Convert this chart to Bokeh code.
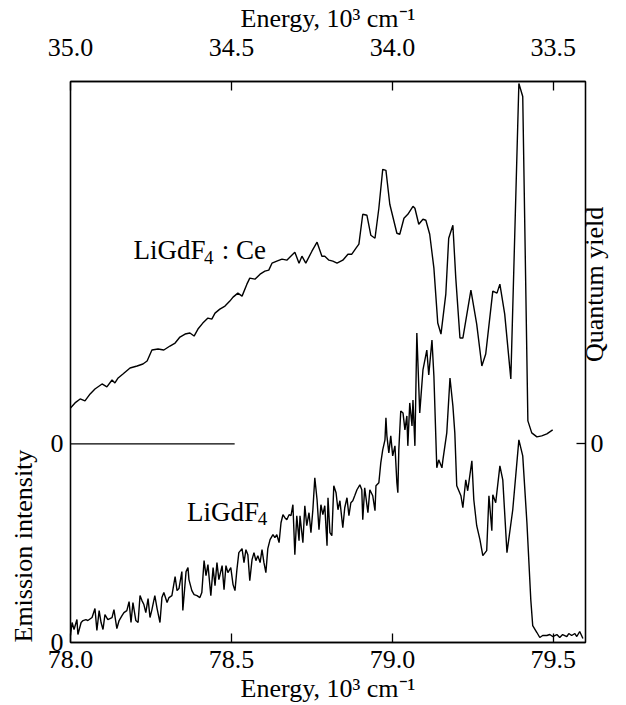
import numpy as np
from bokeh.plotting import figure
from bokeh.models import Range1d, LinearAxis, FixedTicker, PrintfTickFormatter, Label, Title
from bokeh.embed import file_html
from bokeh.resources import INLINE

# ---------------- data ----------------
# LiGdF4:Ce  quantum yield (arbitrary units, right axis, 0 at the middle tick)
ce_energy = [78.000, 78.014, 78.030, 78.045, 78.061, 78.076, 78.098, 78.113, 78.129, 78.138,
             78.148, 78.163, 78.185, 78.207, 78.225, 78.238, 78.253, 78.272, 78.290, 78.309,
             78.325, 78.340, 78.356, 78.371, 78.384, 78.396, 78.411, 78.427, 78.439, 78.449,
             78.464, 78.480, 78.495, 78.505, 78.520, 78.533, 78.548, 78.557, 78.573, 78.589,
             78.604, 78.616, 78.626, 78.641, 78.657, 78.672, 78.697, 78.710, 78.719, 78.731,
             78.750, 78.766, 78.781, 78.790, 78.803, 78.815, 78.828, 78.846, 78.862, 78.874,
             78.887, 78.896, 78.908, 78.921, 78.933, 78.946, 78.958, 78.970, 78.980, 78.992,
             79.014, 79.023, 79.036, 79.048, 79.064, 79.070, 79.082, 79.095, 79.104, 79.116,
             79.129, 79.141, 79.151, 79.166, 79.175, 79.188, 79.197, 79.210, 79.219, 79.244,
             79.262, 79.278, 79.290, 79.312, 79.325, 79.334, 79.349, 79.368, 79.393, 79.405,
             79.421, 79.433, 79.449, 79.464, 79.480, 79.498]
ce_yield = [7.2, 8.2, 9.0, 8.6, 10.0, 11.0, 12.0, 11.4, 12.8, 12.2,
            13.2, 14.0, 15.2, 15.6, 16.0, 16.6, 18.8, 19.0, 18.8, 19.6,
            20.2, 21.4, 22.0, 22.2, 21.6, 23.0, 24.2, 25.2, 25.0, 26.2,
            27.0, 27.6, 28.6, 29.4, 30.2, 29.6, 32.0, 33.2, 33.0, 34.0,
            34.6, 34.8, 36.2, 36.6, 37.0, 36.8, 38.4, 36.2, 37.6, 36.2,
            38.6, 40.4, 37.6, 37.6, 36.8, 36.6, 36.2, 36.8, 38.0, 38.0,
            39.2, 40.0, 46.0, 45.8, 41.8, 41.2, 47.2, 55.0, 54.8, 48.0,
            42.2, 42.0, 45.2, 46.0, 47.6, 47.2, 44.0, 45.0, 44.8, 42.0,
            35.2, 24.2, 22.0, 30.0, 41.2, 43.8, 33.2, 21.2, 21.2, 30.8,
            24.0, 15.6, 18.0, 30.6, 30.2, 32.0, 26.0, 13.0, 72.2, 69.6,
            4.6, 2.2, 1.4, 1.6, 2.0, 2.8]

# LiGdF4 emission intensity (arbitrary units, left axis)
pure_energy = [78.000, 78.005, 78.011, 78.020, 78.023, 78.033, 78.039, 78.048, 78.054, 78.067,
               78.076, 78.082, 78.089, 78.095, 78.101, 78.107, 78.116, 78.129, 78.135, 78.144,
               78.151, 78.160, 78.166, 78.175, 78.182, 78.188, 78.194, 78.203, 78.210, 78.216,
               78.222, 78.228, 78.234, 78.241, 78.247, 78.253, 78.262, 78.269, 78.278, 78.284,
               78.290, 78.300, 78.306, 78.315, 78.325, 78.331, 78.337, 78.346, 78.349, 78.359,
               78.365, 78.368, 78.377, 78.384, 78.393, 78.402, 78.408, 78.415, 78.421, 78.427,
               78.436, 78.443, 78.449, 78.455, 78.461, 78.471, 78.477, 78.483, 78.489, 78.498,
               78.505, 78.511, 78.517, 78.523, 78.533, 78.539, 78.545, 78.551, 78.557, 78.564,
               78.570, 78.576, 78.582, 78.589, 78.595, 78.601, 78.607, 78.613, 78.620, 78.629,
               78.635, 78.641, 78.648, 78.654, 78.660, 78.666, 78.672, 78.679, 78.685, 78.691,
               78.697, 78.703, 78.710, 78.713, 78.722, 78.728, 78.734, 78.741, 78.747, 78.753,
               78.759, 78.766, 78.772, 78.778, 78.784, 78.790, 78.797, 78.800, 78.806, 78.812,
               78.818, 78.825, 78.831, 78.837, 78.846, 78.852, 78.859, 78.865, 78.871, 78.877,
               78.883, 78.890, 78.899, 78.905, 78.908, 78.914, 78.924, 78.930, 78.939, 78.946,
               78.949, 78.958, 78.964, 78.970, 78.977, 78.980, 78.983, 78.989, 78.995, 79.001,
               79.008, 79.014, 79.017, 79.020, 79.026, 79.033, 79.039, 79.045, 79.048, 79.054,
               79.061, 79.064, 79.070, 79.076, 79.085, 79.095, 79.107, 79.113, 79.123, 79.129,
               79.138, 79.144, 79.154, 79.157, 79.169, 79.179, 79.188, 79.194, 79.200, 79.213,
               79.219, 79.228, 79.234, 79.247, 79.253, 79.262, 79.272, 79.281, 79.293, 79.300,
               79.309, 79.312, 79.321, 79.334, 79.343, 79.356, 79.374, 79.393, 79.405, 79.418,
               79.430, 79.436, 79.449, 79.458, 79.467, 79.480, 79.489, 79.498, 79.511, 79.520,
               79.529, 79.542, 79.548, 79.557, 79.567, 79.573, 79.582, 79.592]
pure_intensity = [1.4, 4.0, 2.6, 4.6, 1.6, 4.0, 4.4, 4.6, 4.4, 5.0,
                  6.8, 2.4, 6.4, 4.0, 2.6, 5.6, 4.6, 5.0, 6.6, 2.8,
                  4.4, 5.4, 6.0, 6.4, 8.2, 4.0, 8.0, 4.4, 4.0, 9.4,
                  8.4, 7.6, 6.0, 8.8, 5.0, 6.6, 9.4, 6.8, 4.0, 9.0,
                  10.0, 8.0, 9.0, 9.4, 13.2, 10.4, 10.8, 14.2, 6.4, 14.2,
                  15.0, 12.6, 10.4, 9.6, 9.4, 9.0, 10.0, 16.4, 13.4, 15.6,
                  9.4, 15.0, 11.4, 16.0, 12.6, 15.4, 10.6, 15.4, 14.0, 15.0,
                  11.6, 10.4, 14.6, 18.0, 18.8, 16.0, 18.6, 17.6, 12.4, 16.6,
                  18.0, 16.4, 17.4, 16.0, 18.6, 16.0, 14.0, 18.8, 20.6, 21.6,
                  21.0, 21.6, 20.0, 24.0, 25.6, 25.0, 24.6, 25.6, 25.4, 27.6,
                  17.6, 25.4, 20.4, 25.4, 20.0, 27.4, 23.4, 26.0, 22.0, 26.6,
                  33.0, 28.6, 22.6, 27.6, 25.6, 27.4, 19.4, 29.0, 22.0, 21.4,
                  31.4, 30.0, 26.6, 28.4, 23.0, 27.0, 29.0, 25.4, 28.0, 28.4,
                  29.4, 30.6, 31.6, 30.6, 24.6, 31.0, 26.0, 30.6, 29.4, 26.4,
                  31.4, 32.0, 36.0, 38.6, 40.6, 45.0, 41.4, 38.0, 41.4, 37.4,
                  39.4, 32.0, 30.0, 38.6, 46.4, 46.0, 42.6, 45.4, 39.4, 48.0,
                  43.4, 48.6, 39.4, 62.0, 46.0, 54.6, 58.6, 53.6, 60.6, 53.4,
                  35.0, 36.6, 35.0, 36.6, 42.0, 53.0, 47.4, 42.0, 31.4, 29.4,
                  27.0, 32.6, 30.4, 36.4, 28.6, 23.4, 20.6, 17.4, 18.4, 29.4,
                  22.4, 29.6, 28.0, 35.4, 32.6, 18.0, 26.6, 40.6, 37.4, 24.0,
                  8.6, 3.4, 2.0, 1.0, 1.4, 1.4, 1.6, 1.2, 1.6, 1.0,
                  1.6, 1.2, 1.8, 1.4, 1.8, 1.2, 2.2, 0.8]

# zero line of the quantum-yield curve
zero_energy = [78.0, 78.51]
zero_yield = [0.0, 0.0]

bottom_ticks = [78.0, 78.5, 79.0, 79.5]
top_ticks = [35.0, 34.5, 34.0, 33.5]
axis_title = "Energy, 10\u00b3 cm\u207b\u00b9"

# ---------------- ranges ----------------
X_START, X_END = 78.0, 79.6
TOP_START, TOP_END = 35.0, 33.4
EM_START, EM_END = 0.0, 112.4
QY_START, QY_END = -39.8, 72.6
em_at_qy_zero = (0 - QY_START) * (EM_END - EM_START) / (QY_END - QY_START) + EM_START

FONT = "Liberation Serif"
FS = "26px"

p = figure(width=626, height=705, output_backend="svg", toolbar_location=None,
           x_range=Range1d(X_START, X_END), y_range=Range1d(EM_START, EM_END),
           x_axis_location=None, y_axis_location=None,
           min_border_left=70, min_border_right=41, min_border_top=78, min_border_bottom=62)
p.extra_x_ranges = {"top": Range1d(TOP_START, TOP_END)}
p.extra_y_ranges = {"qy": Range1d(QY_START, QY_END)}
p.grid.visible = False
p.outline_line_color = "black"
p.outline_line_width = 1.3
p.background_fill_color = "white"
p.border_fill_color = "white"


def style(ax, tick_in=9):
    ax.axis_line_color = "black"
    ax.axis_line_width = 1.3
    ax.major_tick_in = tick_in
    ax.major_tick_out = 0
    ax.minor_tick_line_color = None
    ax.major_tick_line_color = "black"
    ax.major_tick_line_width = 1.3
    ax.major_label_text_font = FONT
    ax.major_label_text_font_size = FS
    ax.major_label_text_color = "black"
    ax.axis_label_text_font = FONT
    ax.axis_label_text_font_size = FS
    ax.axis_label_text_font_style = "normal"
    ax.axis_label_text_color = "black"


bottom = LinearAxis(ticker=FixedTicker(ticks=bottom_ticks),
                    formatter=PrintfTickFormatter(format="%.1f"),
                    axis_label=axis_title)
style(bottom)
bottom.major_label_standoff = 8
bottom.axis_label_standoff = 3
p.add_layout(bottom, "below")

top = LinearAxis(x_range_name="top", ticker=FixedTicker(ticks=top_ticks),
                 formatter=PrintfTickFormatter(format="%.1f"),
                 axis_label=axis_title)
style(top)
top.major_label_standoff = 26
top.axis_label_standoff = 3
p.add_layout(top, "above")

left = LinearAxis(ticker=FixedTicker(ticks=[EM_START, em_at_qy_zero]),
                  major_label_overrides={EM_START: "0", em_at_qy_zero: "0"})
style(left, tick_in=0)
left.major_label_standoff = 7
p.add_layout(left, "left")

right = LinearAxis(y_range_name="qy", ticker=FixedTicker(ticks=[0]),
                   formatter=PrintfTickFormatter(format="%d"),
                   axis_label="Quantum yield")
style(right)
right.major_label_standoff = 5
right.axis_label_standoff = -12
right.axis_label_orientation = np.pi / 2
p.add_layout(right, "right")

left_title = Title(text="Emission intensity", align="left", vertical_align="top",
                   standoff=15, text_font=FONT, text_font_size=FS,
                   text_font_style="normal", text_color="black")
p.add_layout(left_title, "left")

# ---------------- curves ----------------
p.line(ce_energy, ce_yield, y_range_name="qy", line_color="black", line_width=1.4)
p.line(pure_energy, pure_intensity, line_color="black", line_width=1.4)
p.line(zero_energy, zero_yield, y_range_name="qy", line_color="black", line_width=1.4)

# ---------------- curve labels ----------------
def lab(x, y, text, size="27px", rng=None, **kw):
    kwargs = dict(x=x, y=y, text=text, text_font=FONT, text_font_size=size,
                  text_color="black", **kw)
    if rng:
        kwargs["y_range_name"] = rng
    p.add_layout(Label(**kwargs))

lab(78.196, 38.8, "LiGdF", rng="qy", text_baseline="alphabetic")
lab(78.415, 37.4, "4", size="19px", rng="qy", text_baseline="alphabetic")
lab(78.470, 38.8, ": Ce", rng="qy", text_baseline="alphabetic")
lab(78.362, 26.2, "LiGdF", text_baseline="alphabetic")
lab(78.582, 24.8, "4", size="19px", text_baseline="alphabetic")

open("out.html", "w").write(file_html(p, INLINE))
